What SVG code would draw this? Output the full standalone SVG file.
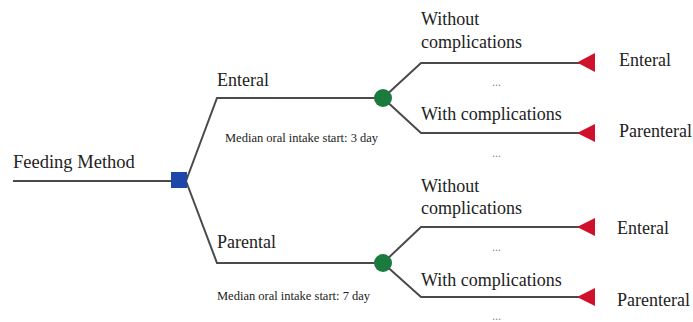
<svg xmlns="http://www.w3.org/2000/svg" width="693" height="322" viewBox="0 0 693 322">
<style>
.ln{fill:none;stroke:#4a4a4a;stroke-width:2}
.t{font-family:"Liberation Serif","Times New Roman",serif;font-size:18px;fill:#222}
.s{font-family:"Liberation Serif","Times New Roman",serif;font-size:12.5px;fill:#222}
.d{font-family:"Liberation Serif","Times New Roman",serif;font-size:12px;fill:#888}
.tri{fill:#d0112b}
.chance{fill:#1b7a3e}
</style>
<rect width="693" height="322" fill="#fff"/>
<g id="connectors">
<path class="ln" d="M13 181 H180"/>
<path class="ln" d="M186 181 L217 98 H383"/>
<path class="ln" d="M186 181 L217 263 H383"/>
<path class="ln" d="M383 98 L421 63 H580"/>
<path class="ln" d="M383 98 L421 133 H580"/>
<path class="ln" d="M383 263 L421 227 H580"/>
<path class="ln" d="M383 263 L421 297 H580"/>
</g>
<g id="decision">
<rect x="171" y="172" width="16" height="16" fill="#1d47a8"/>
<text class="t" x="13" y="168" style="font-size:18.5px">Feeding Method</text>
</g>
<g id="enteral-chance">
<circle class="chance" cx="383" cy="98" r="9"/>
<text class="t" x="217" y="86">Enteral</text>
<text class="s" x="225" y="142">Median oral intake start: 3 day</text>
</g>
<g id="parental-chance">
<circle class="chance" cx="383" cy="263" r="9"/>
<text class="t" x="217" y="248">Parental</text>
<text class="s" x="217" y="300">Median oral intake start: 7 day</text>
</g>
<g id="term1">
<text class="t" x="421" y="25">Without</text>
<text class="t" x="421" y="48">complications</text>
<polygon class="tri" points="577,62.5 595,53 595,72"/>
<text class="t" x="619" y="66">Enteral</text>
<text class="d" x="492" y="86">...</text>
</g>
<g id="term2">
<text class="t" x="421" y="120">With complications</text>
<polygon class="tri" points="577,133 595,124 595,142"/>
<text class="t" x="619" y="137">Parenteral</text>
<text class="d" x="492" y="157">...</text>
</g>
<g id="term3">
<text class="t" x="421" y="192">Without</text>
<text class="t" x="421" y="214">complications</text>
<polygon class="tri" points="577,227 595,218 595,236"/>
<text class="t" x="617" y="234">Enteral</text>
<text class="d" x="492" y="251">...</text>
</g>
<g id="term4">
<text class="t" x="421" y="286">With complications</text>
<polygon class="tri" points="577,297 595,288 595,306"/>
<text class="t" x="617" y="306">Parenteral</text>
<text class="d" x="492" y="320">...</text>
</g>
</svg>
